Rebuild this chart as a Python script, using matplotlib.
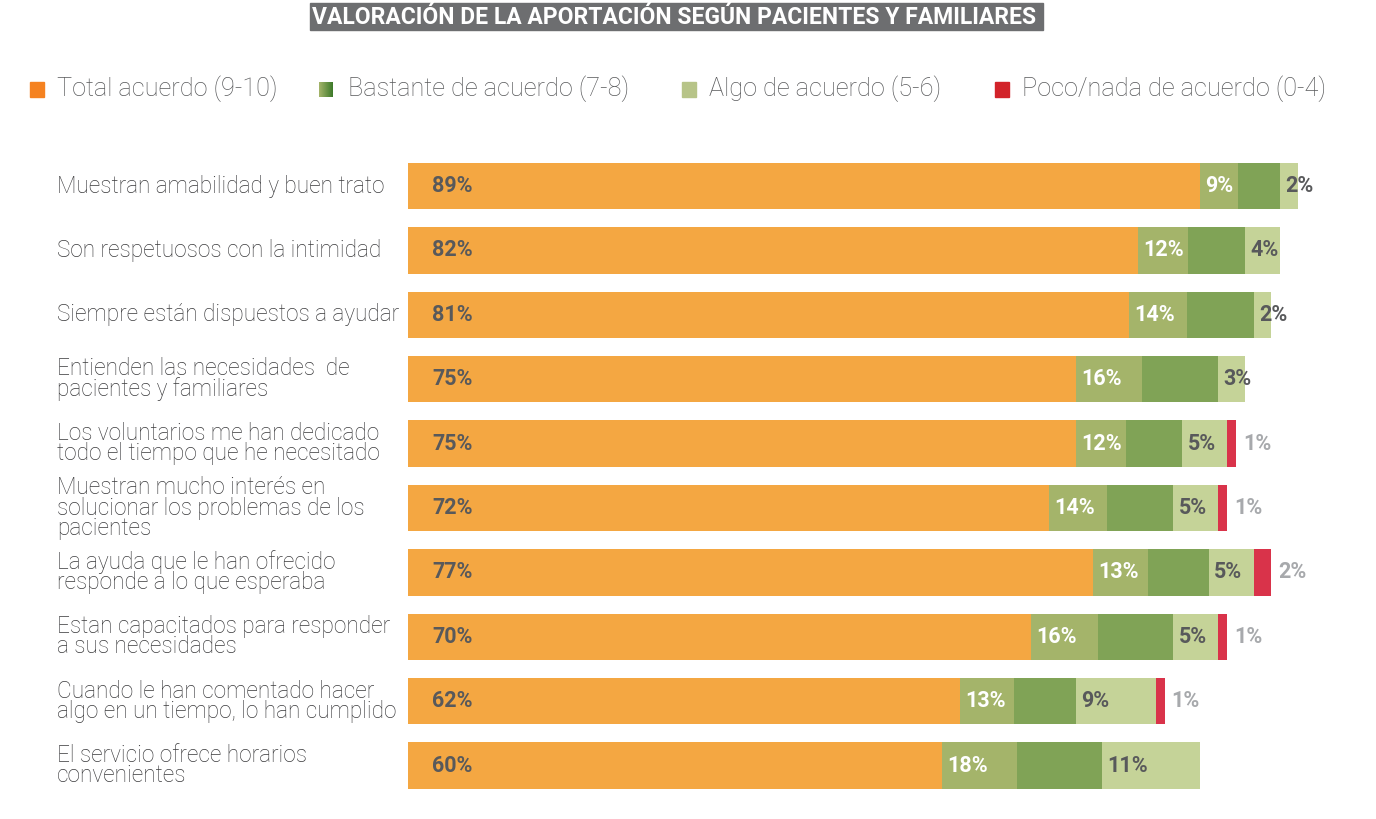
import numpy as np
import matplotlib
matplotlib.use('Agg')
import matplotlib.pyplot as plt
from matplotlib.patches import Rectangle
from matplotlib.colors import LinearSegmentedColormap

# data
categories = ['Muestran amabilidad y buen trato',
              'Son respetuosos con la intimidad',
              'Siempre están dispuestos a ayudar',
              'Entienden las necesidades  de\npacientes y familiares',
              'Los voluntarios me han dedicado\ntodo el tiempo que he necesitado',
              'Muestran mucho interés en\nsolucionar los problemas de los\npacientes',
              'La ayuda que le han ofrecido\nresponde a lo que esperaba',
              'Estan capacitados para responder\na sus necesidades',
              'Cuando le han comentado hacer\nalgo en un tiempo, lo han cumplido',
              'El servicio ofrece horarios\nconvenientes']
total = [89, 82, 81, 75, 75, 72, 77, 70, 62, 60]
bastante = [9, 12, 14, 16, 12, 14, 13, 16, 13, 18]
algo = [2, 4, 2, 3, 5, 5, 5, 5, 9, 11]
poco = [0, 0, 0, 0, 1, 1, 2, 1, 1, 0]
legend_labels = ['Total acuerdo (9-10)', 'Bastante de acuerdo (7-8)',
                 'Algo de acuerdo (5-6)', 'Poco/nada de acuerdo (0-4)']
title = 'VALORACIÓN DE LA APORTACIÓN SEGÚN PACIENTES Y FAMILIARES'

c_orange = '#f4a742'
c_olive = '#a4b46a'
c_green = '#80a356'
c_light = '#c5d398'
c_red = '#d9334a'
c_dark = '#58595b'
c_grey = '#a7a9ac'

plt.rcParams['font.family'] = ['Roboto', 'DejaVu Sans']

W, H = 1376, 819
fig = plt.figure(figsize=(W / 100, H / 100), dpi=100)

# main axes: 0..100 spans pixel 408..1298
ax = fig.add_axes([408 / W, 19 / H, 890 / W, 650 / H])
y = np.arange(len(categories))
total = np.array(total)
bastante = np.array(bastante)
algo = np.array(algo)
poco = np.array(poco)

split = 0.47  # bastante segment drawn in two shades
ax.barh(y, total, height=0.72, color=c_orange)
ax.barh(y, bastante * split, left=total, height=0.72, color=c_olive)
ax.barh(y, bastante * (1 - split), left=total + bastante * split, height=0.72, color=c_green)
ax.barh(y, algo, left=total + bastante, height=0.72, color=c_light)
ax.barh(y, poco, left=total + bastante + algo, height=0.72, color=c_red)

fs = 15.5
for i in range(len(categories)):
    ax.text(2.7, i, f'{total[i]}%', ha='left', va='center', fontsize=fs,
            fontweight='bold', color=c_dark)
    ax.text(total[i] + 0.6, i, f'{bastante[i]}%', ha='left', va='center',
            fontsize=fs, fontweight='bold', color='white')
    ax.text(total[i] + bastante[i] + 0.6, i, f'{algo[i]}%', ha='left', va='center',
            fontsize=fs, fontweight='bold', color=c_dark)
    if poco[i] > 0:
        end = total[i] + bastante[i] + algo[i] + poco[i]
        ax.text(end + 0.8, i, f'{poco[i]}%', ha='left', va='center',
                fontsize=fs, fontweight='bold', color=c_grey)
    # category label on the left
    ax.text(-39.4, i, categories[i], ha='left', va='center', fontsize=16.3,
            color='#3a3a3c', linespacing=0.85, fontweight='light')

ax.set_xlim(0, 100)
ax.set_ylim(9.534, -0.559)
ax.axis('off')

# title box
fig.patches.append(Rectangle((310 / W, 1 - 30 / H), 733 / W, 27 / H,
                             transform=fig.transFigure, color='#6d6e70'))
fig.text(674 / W, 1 - 17 / H, title, ha='center', va='center', fontsize=16.5,
         fontweight='bold', color='white')

# legend
sq_x = [30, 319, 682, 995]
tx_x = [57, 348, 709, 1022]
sq_cols = ['#f58220', None, '#b7c488', '#d2232a']
for k in range(4):
    if sq_cols[k] is None:
        gax = fig.add_axes([sq_x[k] / W, 1 - 97 / H, 14 / W, 15 / H])
        cmap = LinearSegmentedColormap.from_list('g', ['#a4b46a', '#3d7a2a'])
        gax.imshow(np.linspace(0, 1, 50).reshape(1, -1), aspect='auto', cmap=cmap)
        gax.axis('off')
    else:
        fig.patches.append(Rectangle((sq_x[k] / W, 1 - 97 / H), 14 / W, 15 / H,
                                     transform=fig.transFigure, color=sq_cols[k]))
    fig.text(tx_x[k] / W, 1 - 89 / H, legend_labels[k], ha='left', va='center',
             fontsize=18.2, color='#58595b', fontweight='light')

fig.savefig('out.png', dpi=100)
